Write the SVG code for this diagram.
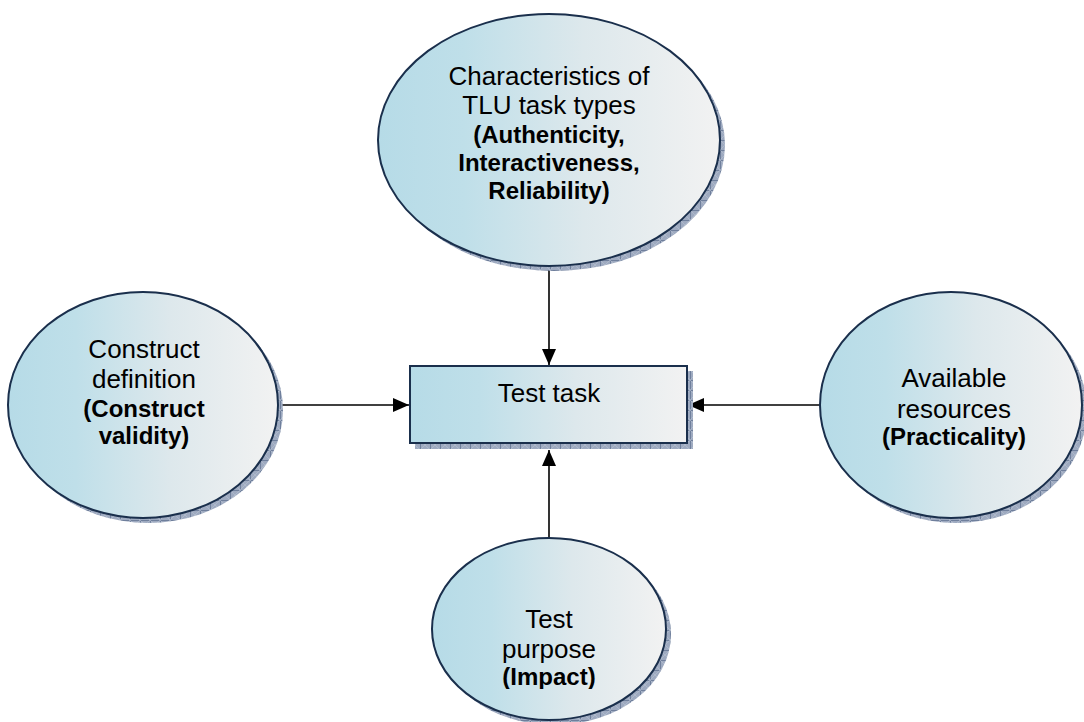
<svg xmlns="http://www.w3.org/2000/svg" width="1084" height="722" viewBox="0 0 1084 722">
  <defs>
    <linearGradient id="fillGrad" x1="0" y1="0" x2="1" y2="0">
      <stop offset="0" stop-color="#b6dbe7"/>
      <stop offset="0.25" stop-color="#bfdfe9"/>
      <stop offset="0.6" stop-color="#dde8ec"/>
      <stop offset="1" stop-color="#f2f2f2"/>
    </linearGradient>
    <pattern id="shadowHatch" width="10" height="10" patternUnits="userSpaceOnUse">
      <rect width="10" height="10" fill="#9eaac0"/>
      <path d="M0 0.5H10M0.5 0V10" stroke="#6f7f9c" stroke-width="1"/>
      <path d="M0 0L10 10M10 0L0 10" stroke="#b9c2d2" stroke-width="0.6"/>
    </pattern>
    <marker id="arrow" viewBox="0 0 16 14" refX="16" refY="7" markerWidth="16" markerHeight="14" markerUnits="userSpaceOnUse" orient="auto">
      <path d="M0 0L16 7L0 14Z" fill="#000"/>
    </marker>
    <clipPath id="impactClip">
      <rect x="0" y="0" width="1084" height="689"/>
    </clipPath>
  </defs>
  <style>
    .shape { fill: url(#fillGrad); stroke: #1a2f4c; stroke-width: 2; }
    .shadow { fill: url(#shadowHatch); }
    .reg { font-family: "Liberation Sans", Arial, sans-serif; font-size: 26px; fill: #000; text-anchor: middle; }
    .bold { font-family: "Liberation Sans", Arial, sans-serif; font-size: 24px; font-weight: bold; fill: #000; text-anchor: middle; }
    .link { stroke: #000; stroke-width: 1.6; fill: none; marker-end: url(#arrow); }
  </style>

  <!-- connectors -->
  <g id="connectors">
    <line class="link" x1="549" y1="266" x2="549" y2="365"/>
    <line class="link" x1="279" y1="405" x2="409" y2="405"/>
    <line class="link" x1="820" y1="405" x2="688" y2="405"/>
    <line class="link" x1="549" y1="538" x2="549" y2="450"/>
  </g>

  <!-- TLU characteristics -->
  <g id="node-tlu">
    <ellipse class="shadow" cx="554" cy="145" rx="171" ry="126"/>
    <ellipse class="shape" cx="549" cy="140" rx="171" ry="126"/>
    <text class="reg" x="549" y="85">Characteristics of</text>
    <text class="reg" x="549" y="114">TLU task types</text>
    <text class="bold" x="549" y="143">(Authenticity,</text>
    <text class="bold" x="549" y="171">Interactiveness,</text>
    <text class="bold" x="549" y="199">Reliability)</text>
  </g>

  <!-- Construct definition -->
  <g id="node-construct">
    <ellipse class="shadow" cx="148" cy="410" rx="135" ry="113"/>
    <ellipse class="shape" cx="143" cy="405" rx="135" ry="113"/>
    <text class="reg" x="144" y="358">Construct</text>
    <text class="reg" x="144" y="388">definition</text>
    <text class="bold" x="144" y="417">(Construct</text>
    <text class="bold" x="144" y="444">validity)</text>
  </g>

  <!-- Test task -->
  <g id="node-test-task">
    <rect class="shadow" x="415" y="371" width="278" height="78"/>
    <rect class="shape" x="410" y="366" width="277" height="77"/>
    <text class="reg" x="549" y="402">Test task</text>
  </g>

  <!-- Available resources -->
  <g id="node-resources">
    <ellipse class="shadow" cx="956" cy="410" rx="131" ry="113"/>
    <ellipse class="shape" cx="951" cy="405" rx="131" ry="113"/>
    <text class="reg" x="954" y="387">Available</text>
    <text class="reg" x="954" y="418">resources</text>
    <text class="bold" x="954" y="445">(Practicality)</text>
  </g>

  <!-- Test purpose -->
  <g id="node-purpose">
    <ellipse class="shadow" cx="554" cy="634" rx="117" ry="91"/>
    <ellipse class="shape" cx="549" cy="629" rx="117" ry="91"/>
    <text class="reg" x="549" y="628">Test</text>
    <text class="reg" x="549" y="658">purpose</text>
    <text class="bold" x="549" y="685" clip-path="url(#impactClip)">(Impact)</text>
  </g>
</svg>
